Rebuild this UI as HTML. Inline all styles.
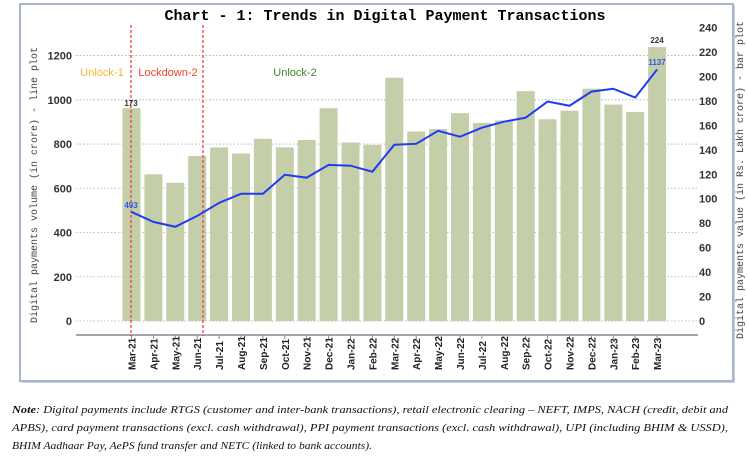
<!DOCTYPE html>
<html><head><meta charset="utf-8"><style>
body{margin:0;background:#fff;width:748px;height:458px;overflow:hidden}
svg{display:block}
</style></head><body>
<svg id="s" width="748" height="458" xmlns="http://www.w3.org/2000/svg" font-family="Liberation Sans, sans-serif"></svg>
<script>
const s=document.getElementById('s');
let h='';
h+='<rect x="22" y="6" width="713" height="377" fill="#c9cfd9"/>';
h+='<rect x="20" y="4" width="713" height="377" fill="#fff" stroke="#aab4cf" stroke-width="2"/>';
h+='<text x="385" y="20" font-family="Liberation Mono, monospace" font-weight="bold" font-size="15" text-anchor="middle">Chart - 1: Trends in Digital Payment Transactions</text>';
const y0=321,ls=0.2212,rs=1.2227;
for(let v=0;v<=1200;v+=200){const y=y0-v*ls;h+=`<line x1="76" x2="698" y1="${y}" y2="${y}" stroke="#aaa" stroke-dasharray="1.5,2" stroke-width="0.8"/><text x="72" y="${y+4}" font-size="11" font-weight="bold" fill="#333" text-anchor="end">${v}</text>`;}
for(let v=0;v<=240;v+=20){const y=y0-v*rs;h+=`<text x="699" y="${y+4}" font-size="11" font-weight="bold" fill="#333">${v}</text>`;}
const m=['Mar-21','Apr-21','May-21','Jun-21','Jul-21','Aug-21','Sep-21','Oct-21','Nov-21','Dec-21','Jan-22','Feb-22','Mar-22','Apr-22','May-22','Jun-22','Jul-22','Aug-22','Sep-22','Oct-22','Nov-22','Dec-22','Jan-23','Feb-23','Mar-23'];
const b=[174,120,113,135,142,137,149,142,148,174,146,144,199,155,157,170,162,164,188,165,172,190,177,171,224];
const l=[493,448,426,475,534,575,575,661,648,706,702,675,797,801,860,833,874,901,919,992,973,1037,1050,1010,1137];
const x=i=>131.5+i*21.9;
b.forEach((v,i)=>{const y=y0-v*rs;h+=`<rect x="${x(i)-9}" y="${y}" width="18" height="${y0-y}" fill="#c4cfa9"/>`;});
h+='<line x1="76" x2="698" y1="335" y2="335" stroke="#888" stroke-width="1.5"/>';
m.forEach((t,i)=>{h+=`<line x1="${x(i)}" x2="${x(i)}" y1="335" y2="339" stroke="#888"/><text transform="translate(${x(i)+4},370) rotate(-90)" font-size="10" font-weight="bold" fill="#222">${t}</text>`;});
[131,203].forEach(xx=>h+=`<line x1="${xx}" x2="${xx}" y1="25" y2="336" stroke="#f04040" stroke-width="1.3" stroke-dasharray="3,2"/>`);
h+='<polyline fill="none" stroke="#1f3cf0" stroke-width="2" points="'+l.map((v,i)=>x(i)+','+(y0-v*ls)).join(' ')+'"/>';
h+='<text x="102" y="76" font-size="11" fill="#f5b731" text-anchor="middle">Unlock-1</text>';
h+='<text x="168" y="76" font-size="11" fill="#ee4433" text-anchor="middle">Lockdown-2</text>';
h+='<text x="295" y="76" font-size="11" fill="#3a8a2a" text-anchor="middle">Unlock-2</text>';
h+='<text x="131" y="106" font-size="8" font-weight="bold" fill="#333" text-anchor="middle">173</text>';
h+='<text x="131" y="208" font-size="8" font-weight="bold" fill="#3355ee" text-anchor="middle">493</text>';
h+='<text x="657" y="43" font-size="8" font-weight="bold" fill="#333" text-anchor="middle">224</text>';
h+='<text x="657" y="65" font-size="8" font-weight="bold" fill="#3355ee" text-anchor="middle">1137</text>';
h+='<text transform="translate(37,185) rotate(-90)" font-family="Liberation Mono, monospace" font-size="10" fill="#444" text-anchor="middle">Digital payments volume (in crore) - line plot</text>';
h+='<text transform="translate(743,180) rotate(-90)" font-family="Liberation Mono, monospace" font-size="10" fill="#444" text-anchor="middle">Digital payments value (in Rs. Lakh crore) - bar plot</text>';
const notes=['<tspan font-weight="bold">Note</tspan>: Digital payments include RTGS (customer and inter-bank transactions), retail electronic clearing – NEFT, IMPS, NACH (credit, debit and','APBS), card payment transactions (excl. cash withdrawal), PPI payment transactions (excl. cash withdrawal), UPI (including BHIM &amp; USSD),','BHIM Aadhaar Pay, AePS fund transfer and NETC (linked to bank accounts).'];
notes.forEach((t,i)=>h+=`<text x="12" y="${413+i*18}" font-family="Liberation Serif, serif" font-style="italic" font-size="11" fill="#111" textLength="${i<2?716:360}" lengthAdjust="spacingAndGlyphs">${t}</text>`);
s.innerHTML=h;
</script>
</body></html>
